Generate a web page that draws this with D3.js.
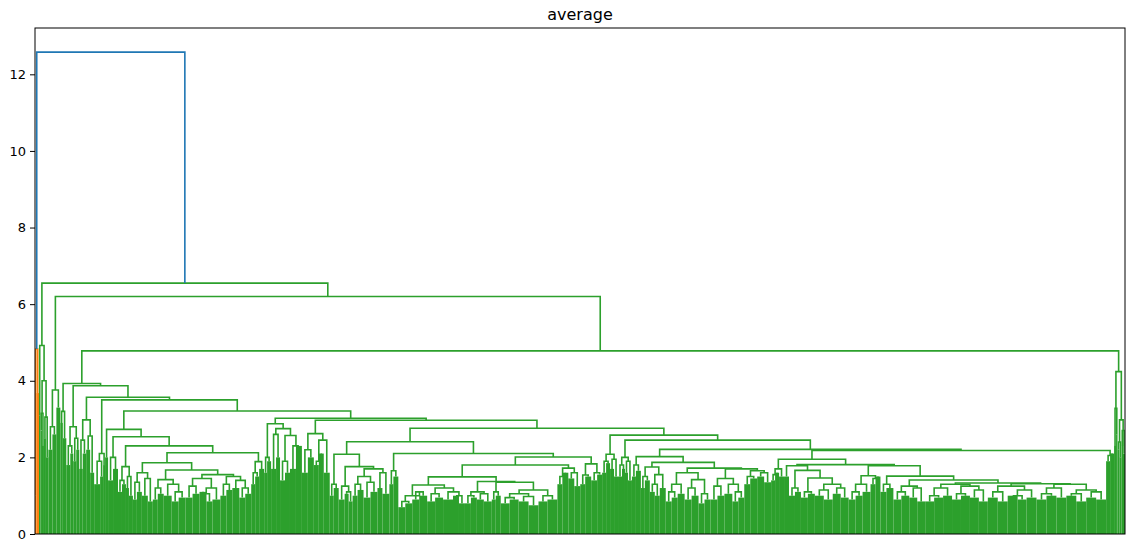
<!DOCTYPE html>
<html>
<head>
<meta charset="utf-8">
<script src="https://cdn.jsdelivr.net/npm/d3@7"></script>
<style>
  body { margin: 0; background: #fff; }
  text { font-family: "DejaVu Sans", sans-serif; fill: #000; }
</style>
</head>
<body>
<svg id="chart" width="1135" height="542"></svg>
<script>
// a merge is [height, left, right]; a dense group of leaves is [size, top of its merges]
const orangeCluster = [4.83, [1.5, 1.0], [2.5, 3.68]];

const g2Cluster = [4.92, [1.5, 3.1], [4.0, [3.15, [1.5, 2.7], [2, 2.3]], [3.05, [2, 2.5], [2.5, 2.0]]]];
const g3Left = [3.76, [2.8, [4, 2.2], [4, 2.6]], [4, 3.3]];
const aLeft = [3.2, [2.5, 2.9], [3.5, 2.5]];
const bLeft = [2.8, [2.3, [4, 1.8], [3, 2.1]], [2.5, [3, 1.9], [3, 2.2]]];
const cLeft = [2.98, [2.45, [3.5, 1.7], [3.5, 2.1]], [2.56, [4, 2.2], [4, 1.6]]];
const dLeft = [2.1, [1.9, [6, 1.3], [3, 1.5]], [2, 1.8]];

const e1Left = [3, 2.0];
const e2Left = [2.0, [5, 1.4], [5, 1.7]];
const e3Left = [1.76, [1.4, [4, 1.1], [4, 1.3]], [1.5, [3, 1.2], [4, 1.0]]];
const e6 = [1.6, [1.35, [4, 0.9], [5, 1.1]], [1.45, [6, 1.0], [5, 0.85]]];
const e7Left = [1.42, [1.2, [5, 0.9], [6, 1.05]], [1.3, [8, 1.0], [1.1, [7, 0.85], [7, 0.95]]]];
const e7Right = [1.55,
  [1.45, [1.25, [7, 0.95], [7, 1.05]], [1.2, [1.05, [7, 1.1], [6, 0.85]], [8, 0.9]]],
  [1.5, [1.3, [6, 1.0], [6, 1.15]], [1.4, [7, 1.2], [1.2, [6, 0.95], [6, 1.05]]]]];
const e4Right = [1.89, [1.6, [4, 1.3], [4, 1.5]], [5, 1.7]];

const f1Left = [2.0, [3, 1.6], [4, 1.9]];
const f1Right = [2.75, [2.6, [5, 1.7], [4, 2.0]], [2.57, [1.9, [5, 1.4], [5, 1.6]], [2.3, [6, 1.7], [6, 2.3]]]];
const gLeft = [2.62, [2.2, [6, 1.6], [6, 2.0]], [2.45, [1.9, [5, 1.8], [5, 2.1]], [6, 1.6]]];

const h1bLeft = [1.3, [4, 1.0], [5, 1.2]];
const h1bRight = [1.76, [1.25, [6, 0.9], [1.1, [4, 1.05], [4, 0.85]]],
  [1.7, [1.5, [1.3, [5, 1.0], [6, 1.15]], [1.35, [7, 0.95], [7, 1.1]]], [1.6, [5, 1.2], [7, 1.05]]]];
const h1cLeft = [1.65, [4, 1.3], [5, 1.5]];
const h1fLeft = [1.28, [1.0, [0.85, [7, 0.7], [7, 0.8]], [1.1, [7, 0.9], [8, 1.0]]],
  [1.2, [1.05, [8, 0.85], [8, 0.95]], [1.1, [10, 0.9], [1.0, [6, 1.0], [6, 0.8]]]]];
const h1fRight = [1.37, [1.1, [1.0, [6, 0.8], [6, 0.95]], [1.05, [7, 0.9], [8, 0.85]]],
  [1.35, [1.1, [4, 0.9], [5, 1.0]],
    [1.15, [1.05, [0.95, [9, 0.8], [9, 0.9]], [0.98, [10, 0.85], [10, 0.75]]], [1.0, [9, 0.85], [10, 0.9]]]]];
const h1eRight = [1.72, [1.5, [5, 1.3], [6, 1.6]], [1.6, [6, 1.45], [6, 1.25]]];
const h1dRight = [1.83, [1.54, [5, 1.3], [6, 1.5]], [1.6, [6, 1.4], [5, 1.55]]];

const kLeft = [2.08, [1.9, [4, 1.6], [4, 1.85]], [1.95, [4, 1.7], [4, 1.5]]];
const k1Left = [2.0, [1.8, [4, 1.5], [3, 1.7]], [1.9, [3, 1.6], [4, 1.4]]];
const k5Left = [1.8, [4, 1.5], [5, 1.65]];
const k7 = [1.75, [1.5, [4, 1.2], [5, 1.4]], [1.55, [1.3, [5, 1.1], [5, 1.0]], [6, 1.2]]];
const k8Left = [1.6, [1.3, [1.1, [6, 0.85], [6, 0.95]], [7, 1.05]],
  [1.42, [1.2, [7, 0.9], [7, 1.0]], [1.05, [6, 0.8], [6, 0.9]]]];
const k8Right = [1.7, [1.45, [1.25, [7, 0.9], [7, 1.0]], [1.3, [8, 1.05], [1.1, [6, 0.85], [6, 0.95]]]],
  [1.65, [1.5, [6, 1.3], [7, 1.45]], [1.6, [7, 1.5], [7, 1.35]]]];
const k4Left = [1.7, [1.55, [4, 1.4], [4, 1.6]], [5, 1.5]];
const k9Left = [1.78, [5, 1.5], [1.66, [1.2, [6, 1.0], [6, 1.1]],
  [1.46, [1.1, [7, 0.95], [7, 1.05]], [1.3, [1.15, [9, 1.0], [9, 0.9]], [1.2, [8, 1.05], [8, 0.95]]]]]];
const k11Left = [1.52, [1.3, [1.1, [7, 0.9], [7, 1.0]], [8, 1.1]], [1.45, [5, 1.3], [5, 1.5]]];
const nLeft = [1.3, [6, 1.1], [7, 1.2]];
const mLeft = [1.25, [1.1, [8, 0.9], [8, 1.0]], [1.2, [8, 0.95], [8, 0.85]]];
const mrLeft = [1.3, [1.2, [1.0, [9, 0.85], [9, 0.95]], [9, 1.0]],
  [1.25, [1.05, [9, 0.9], [9, 1.0]], [1.15, [9, 0.95], [9, 0.85]]]];
const mrRight = [1.31, [1.25, [1.1, [10, 0.95], [10, 0.85]], [1.15, [1.0, [10, 1.0], [9, 0.9]], [10, 0.95]]],
  [1.3, [1.2, [1.05, [10, 0.9], [10, 1.0]], [10, 0.95]], [1.15, [1.05, [10, 1.0], [10, 0.85]], [1.1, [10, 0.95], [10, 0.9]]]]];
const k3Right = [2.05, [4, 1.9], [4, 2.1]];

const farRight = [4.24, [3.28, [2, 2.3], [1.5, 2.6]],
  [2.98, [2.4, [2, 2.2], [2, 2.0]], [2.7, [1.5, 2.3], [2, 2.1]]]];

const yTicks = [0, 2, 4, 6, 8, 10, 12];
const aboveColor = "#1f77b4";
const clusterColors = ["#ff7f0e", "#2ca02c"];

// put the named pieces together into the full merge tree
const eLeftBranch = [2.73, e1Left, [2.54, e2Left, [2.3, e3Left,
  [2.12, [1.86, e6, [1.67, e7Left, e7Right]], e4Right]]]];
const h1a = [2.41, [2.08, h1bLeft, h1bRight],
  [2.1, h1cLeft, [2.01, [1.8, [1.49, h1fLeft, h1fRight], h1eRight], h1dRight]]];
const kBranch = [2.58, kLeft, [2.45, k1Left, [2.21,
  [2.02, k5Left, [1.87, k7, [1.72, k8Left, k8Right]]],
  [2.18, [1.95, k4Left, [1.81, k9Left, [1.78, k11Left,
    [1.51, nLeft, [1.41, mLeft, [1.33, mrLeft, mrRight]]]]]], k3Right]]]];
const gBranch = [2.97, gLeft, [2.76, h1a, kBranch]];
const fBranch = [3.02, [2.88, f1Left, f1Right], gBranch];
const eBranch = [3.21, eLeftBranch, fBranch];
const aBranch = [3.93, aLeft, [3.87, bLeft, [3.57, cLeft, [3.5, dLeft, eBranch]]]];
const greenCluster = [6.55, g2Cluster, [6.2, g3Left, [4.78, aBranch, farRight]]];
const rootHeight = 12.58;

var leaves = [], links = [], cursor = 0;

function layout(node, color) {
  if (node.length == 2) {
    var leaf = {x0: cursor, x1: cursor + node[0], x: cursor + node[0] / 2, h: node[1], color: color};
    cursor += node[0];
    leaves.push(leaf);
    return leaf;
  }
  var a = layout(node[1], color);
  var b = layout(node[2], color);
  links.push({a: a, b: b, h: node[0], color: color});
  return {x: (a.x + b.x) / 2, h: node[0]};
}

var left = layout(orangeCluster, clusterColors[0]);
var right = layout(greenCluster, clusterColors[1]);
links.push({a: left, b: right, h: rootHeight, color: aboveColor});

var margin = {left: 35, right: 10, top: 28, bottom: 8};
var width = 1135, height = 542;

var svg = d3.select("#chart");

var x = d3.scaleLinear()
  .domain([0, cursor])
  .range([margin.left, width - margin.right]);

var y = d3.scaleLinear()
  .domain([0, rootHeight * 1.05])
  .range([height - margin.bottom, margin.top]);

var plot = svg.append("g");

plot.selectAll("rect.leaf")
  .data(leaves)
  .enter().append("rect")
    .attr("class", "leaf")
    .attr("x", d => x(d.x0))
    .attr("width", d => x(d.x1) - x(d.x0))
    .attr("y", d => y(d.h))
    .attr("height", d => y(0) - y(d.h))
    .attr("fill", d => d.color);

plot.selectAll("path.link")
  .data(links)
  .enter().append("path")
    .attr("class", "link")
    .attr("fill", "none")
    .attr("stroke", d => d.color)
    .attr("stroke-width", 1.6)
    .attr("d", d => "M" + x(d.a.x) + "," + y(d.a.h)
      + "V" + y(d.h) + "H" + x(d.b.x) + "V" + y(d.b.h));

var yAxis = d3.axisLeft(y)
  .tickValues(yTicks)
  .tickFormat(d3.format("d"))
  .tickSize(5)
  .tickPadding(4);

svg.append("g")
  .attr("transform", "translate(" + margin.left + ",0)")
  .call(yAxis)
  .call(g => g.select(".domain").remove())
  .call(g => g.selectAll("text").style("font-size", "13px").style("font-family", "DejaVu Sans"))
  .call(g => g.selectAll("line").attr("stroke", "#000").attr("stroke-width", 1));

// axes frame
svg.append("rect")
  .attr("x", margin.left)
  .attr("y", margin.top)
  .attr("width", width - margin.left - margin.right)
  .attr("height", height - margin.top - margin.bottom)
  .attr("fill", "none")
  .attr("stroke", "#000")
  .attr("stroke-width", 1);

svg.append("text")
  .attr("x", (margin.left + width - margin.right) / 2)
  .attr("y", 20)
  .attr("text-anchor", "middle")
  .style("font-size", "16px")
  .text("average");
</script>
</body>
</html>
